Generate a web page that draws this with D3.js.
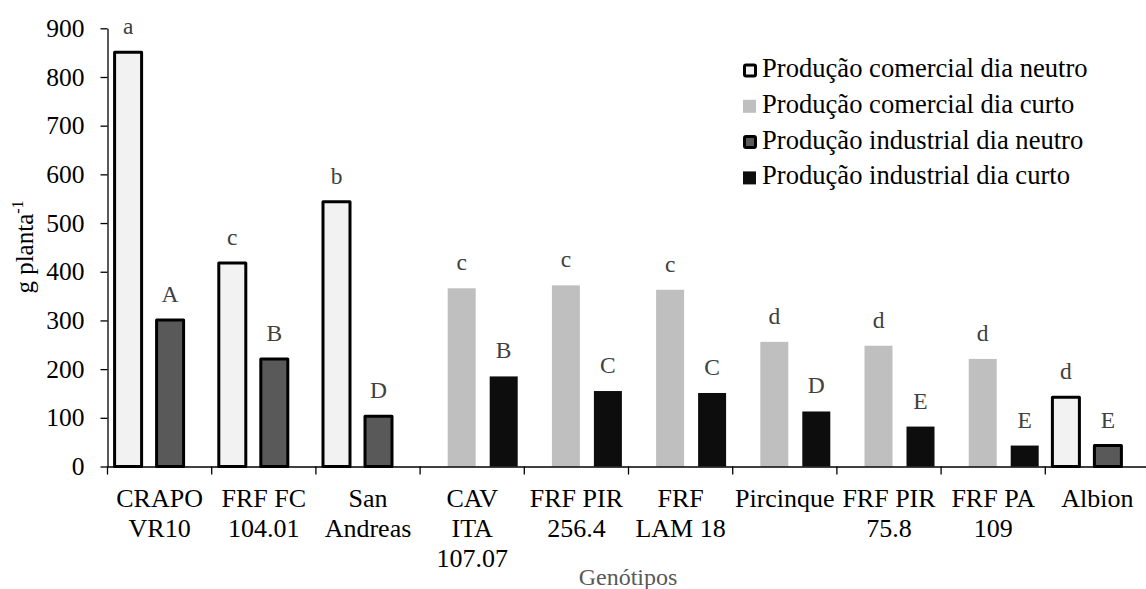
<!DOCTYPE html>
<html>
<head>
<meta charset="utf-8">
<script src="https://cdn.jsdelivr.net/npm/d3@7"></script>
<style>
  body { margin: 0; background: #fff; }
  text { font-family: "Liberation Serif", "Times New Roman", serif; }
</style>
</head>
<body>
<div id="chart-area"></div>
<script>
// genotypes (line breaks as in the picture)
const categories = ["CRAPO\nVR10", "FRF FC\n104.01", "San\nAndreas", "CAV\nITA\n107.07",
    "FRF PIR\n256.4", "FRF\nLAM 18", "Pircinque", "FRF PIR\n75.8", "FRF PA\n109", "Albion"]

const seriesNames = ["Produção comercial dia neutro", "Produção comercial dia curto",
    "Produção industrial dia neutro", "Produção industrial dia curto"]

// values (null = no bar)
const comNeutro = [851, 418, 544, null, null, null, null, null, null, 142]
const comCurto  = [null, null, null, 366, 372, 363, 256, 248, 221, null]
const indNeutro = [301, 221, 103, null, null, null, null, null, null, 43]
const indCurto  = [null, null, null, 185, 155, 151, 113, 82, 43, null]

// letters over the bars
const comNeutroLetters = ["a", "c", "b", "", "", "", "", "", "", "d"]
const comCurtoLetters  = ["", "", "", "c", "c", "c", "d", "d", "d", ""]
const indNeutroLetters = ["A", "B", "D", "", "", "", "", "", "", "E"]
const indCurtoLetters  = ["", "", "", "B", "C", "C", "D", "E", "E", ""]

const yTicks = [0, 100, 200, 300, 400, 500, 600, 700, 800, 900]

const series = [
    { name: seriesNames[0], values: comNeutro, letters: comNeutroLetters, fill: "#f2f2f2", stroke: "#000" },
    { name: seriesNames[1], values: comCurto,  letters: comCurtoLetters,  fill: "#bfbfbf", stroke: null },
    { name: seriesNames[2], values: indNeutro, letters: indNeutroLetters, fill: "#595959", stroke: "#000" },
    { name: seriesNames[3], values: indCurto,  letters: indCurtoLetters,  fill: "#0d0d0d", stroke: null }
]

const width = 1146
const height = 589

const svg = d3.select("#chart-area").append("svg")
    .attr("width", width)
    .attr("height", height)

const x = d3.scaleBand()
    .domain(categories)
    .range([107.5, 1149.5])
    .padding(0)

const slot = d3.scalePoint()
    .domain(seriesNames)
    .range([-31.5, 31.5])

const y = d3.scaleLinear()
    .domain([0, 900])
    .range([466.5, 28.3])

const barW = 28

// bars
series.forEach(s => {
    const g = svg.append("g")
    const data = categories.map((c, i) => ({ c: c, v: s.values[i], l: s.letters[i] }))
        .filter(d => d.v != null)

    g.selectAll("rect")
        .data(data)
        .enter().append("rect")
        .attr("x", d => x(d.c) + x.bandwidth() / 2 + slot(s.name) - (s.stroke ? (barW - 1) / 2 : barW / 2))
        .attr("y", d => y(d.v))
        .attr("width", s.stroke ? barW - 1 : barW)
        .attr("height", d => y(0) - y(d.v))
        .attr("fill", s.fill)
        .attr("stroke", s.stroke || "none")
        .attr("stroke-width", 3)
        .attr("stroke-linejoin", "round")

    g.selectAll("text")
        .data(data)
        .enter().append("text")
        .attr("x", d => x(d.c) + x.bandwidth() / 2 + slot(s.name))
        .attr("y", d => y(d.v) - 18)
        .attr("text-anchor", "middle")
        .attr("font-size", 23.5)
        .attr("fill", "#404040")
        .text(d => d.l)
})

// y axis
const yAxis = svg.append("g")
    .attr("transform", "translate(107.5,0)")
    .call(d3.axisLeft(y).tickValues(yTicks).tickSize(7).tickSizeOuter(0).tickPadding(16))
yAxis.select(".domain").attr("stroke", "#000").attr("stroke-width", 1.3)
yAxis.selectAll(".tick line").attr("stroke", "#000").attr("stroke-width", 1.3)
yAxis.selectAll(".tick text")
    .attr("font-size", 25.5)
    .attr("fill", "#000")
    .style("font-family", "Liberation Serif")

// x axis line and ticks at band edges
const xAxis = svg.append("g")
    .attr("transform", "translate(0," + y(0) + ")")
    .call(d3.axisBottom(x).tickSize(0).tickFormat(""))
xAxis.select(".domain").attr("stroke", "#000").attr("stroke-width", 1.5)

const edges = categories.map(c => x(c)).concat([x.range()[1]])
svg.append("g").selectAll("line")
    .data(edges)
    .enter().append("line")
    .attr("x1", d => d).attr("x2", d => d)
    .attr("y1", y(0)).attr("y2", y(0) + 8)
    .attr("stroke", "#000")
    .attr("stroke-width", 1.3)

// category labels
svg.append("g").selectAll("text")
    .data(categories)
    .enter().append("text")
    .attr("x", d => x(d) + x.bandwidth() / 2)
    .attr("y", 507)
    .attr("text-anchor", "middle")
    .attr("font-size", 26)
    .attr("fill", "#000")
    .each(function (d) {
        const t = d3.select(this)
        d.split("\n").forEach((line, i) => {
            t.append("tspan")
                .attr("x", x(d) + x.bandwidth() / 2)
                .attr("dy", i === 0 ? 0 : 30)
                .text(line)
        })
    })

// axis titles
svg.append("text")
    .attr("x", 628)
    .attr("y", 585)
    .attr("text-anchor", "middle")
    .attr("font-size", 24)
    .attr("fill", "#595959")
    .text("Genótipos")

const yTitle = svg.append("text")
    .attr("transform", "translate(33,247) rotate(-90)")
    .attr("text-anchor", "middle")
    .attr("font-size", 25)
    .attr("fill", "#000")
yTitle.append("tspan").text("g planta")
yTitle.append("tspan")
    .attr("font-size", 16)
    .attr("dy", -10)
    .text("-1")

// legend
const legend = svg.append("g")
series.forEach((s, i) => {
    const base = 77 + i * 35.8
    if (s.stroke) {
        legend.append("rect")
            .attr("x", 744.5).attr("y", base - 12)
            .attr("width", 11).attr("height", 11)
            .attr("fill", s.fill)
            .attr("stroke", s.stroke)
            .attr("stroke-width", 3)
            .attr("rx", 1.5)
    } else {
        legend.append("rect")
            .attr("x", 743).attr("y", base - 13)
            .attr("width", 13).attr("height", 13)
            .attr("fill", s.fill)
    }
    legend.append("text")
        .attr("x", 762)
        .attr("y", base)
        .attr("font-size", 26.6)
        .attr("fill", "#000")
        .text(s.name)
})
</script>
</body>
</html>
